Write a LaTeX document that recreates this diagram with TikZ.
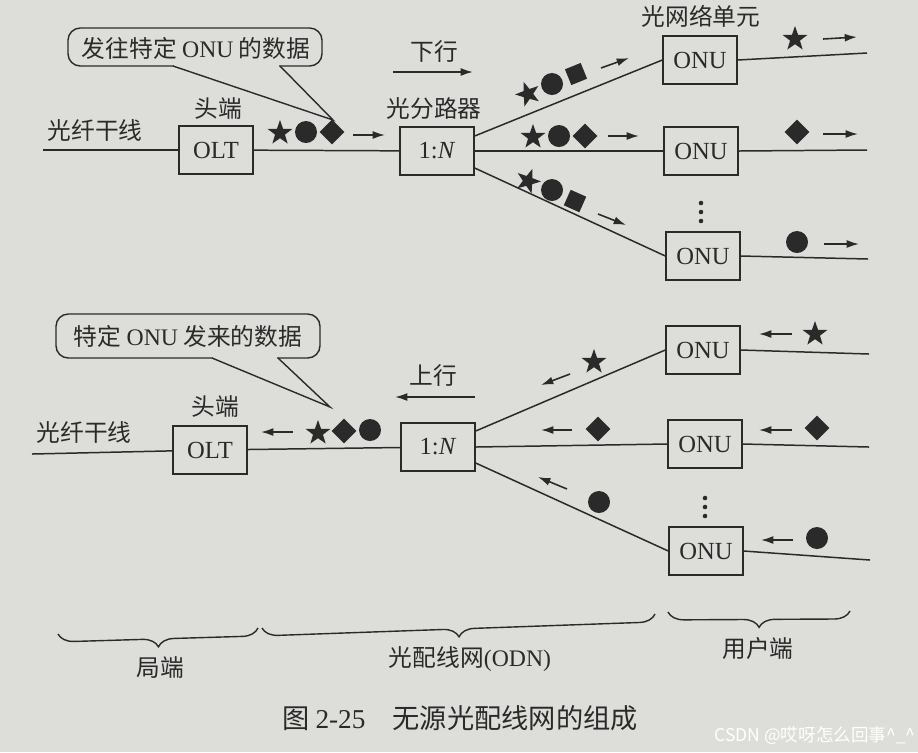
\documentclass[tikz,border=0pt]{standalone}
\usepackage{fontspec}
\setmainfont{Liberation Serif}
\newfontfamily\cjk{Noto Sans CJK SC}
\newfontfamily\wmfont{Noto Sans CJK SC}
\usetikzlibrary{shapes.geometric,arrows.meta,decorations.pathreplacing,calc}
\definecolor{paper}{RGB}{221,221,217}
\definecolor{ink}{RGB}{42,42,42}
\begin{document}
\begin{tikzpicture}[x=0.02cm,y=-0.02cm,
  box/.style={draw=ink,line width=0.8pt,minimum width=1.48cm,minimum height=0.96cm,inner sep=0pt,text=ink,font=\fontsize{14}{16}\selectfont},
  fib/.style={draw=ink,line width=0.85pt},
  lbl/.style={font=\cjk\fontsize{13.5}{15}\selectfont,text=ink,inner sep=0pt},
  sarr/.style={draw=ink,line width=0.9pt,-{Latex[length=7pt,width=4.5pt]}},
  sstar/.style={star,star points=5,star point ratio=2.5,fill=ink,inner sep=0pt,minimum size=0.52cm},
  sdot/.style={circle,fill=ink,inner sep=0pt,minimum size=0.44cm},
  sdia/.style={diamond,fill=ink,inner sep=0pt,minimum width=0.5cm,minimum height=0.5cm},
  ssq/.style={rectangle,fill=ink,inner sep=0pt,minimum size=0.34cm},
  vdot/.style={circle,fill=ink,inner sep=0pt,minimum size=2.6pt},
  callout/.style={draw=ink,line width=0.8pt,rounded corners=7pt},
  brc/.style={draw=ink,line width=0.8pt,decorate,decoration={brace,mirror,amplitude=9pt}}
]
\fill[paper] (0,0) rectangle (918,752);

% ================= TOP: downstream =================
\node[box] (olt1) at (216,150) {OLT};
\node[box] (sp1) at (437,151) {1:\textit{N}};
\node[box] (onu1a) at (700,60) {ONU};
\node[box] (onu1b) at (701,151) {ONU};
\node[box] (onu1c) at (703,256) {ONU};
\coordinate (t1) at (43,150);
\coordinate (e1a) at (867,53);
\coordinate (e1b) at (867,150);
\coordinate (e1c) at (868,259);
\draw[fib] (t1) -- (olt1);
\draw[fib] (olt1) -- (sp1);
\draw[fib] ($(sp1.east)+(0,-15)$) -- (onu1a.west);
\draw[fib] (sp1.east) -- (onu1b.west);
\draw[fib] ($(sp1.east)+(0,17)$) -- (onu1c.west);
\draw[fib] (onu1a.east) -- (e1a);
\draw[fib] (onu1b.east) -- (e1b);
\draw[fib] (onu1c.east) -- (e1c);

\node[lbl] (l1) at (95,130) {光纤干线};
\node[lbl] (h1) at (218,109) {头端};
\node[lbl] (s1l) at (434,108) {光分路器};
\node[lbl] (dn) at (434,52) {下行};
\draw[sarr] (393,72) -- (473,72);
\node[lbl] (onul) at (701,16) {光网络单元};

% callout
\draw[callout] (68,28) rectangle (322,66);
\fill[paper] (174,64.3) rectangle (279,67.7);
\draw[ink,line width=0.8pt] (173,66) -- (333,120) -- (280,66);
\node[lbl] (c1) at (196,48) {发往特定 {\rmfamily ONU} 的数据};

% symbols at OLT
\node[sstar] (a1) at (280,133) {};
\node[sdot] (a2) at (306,132) {};
\node[sdia] (a3) at (332,132) {};
\draw[sarr] (353,135) -- (385,135);

% branch symbols
\node[sstar,rotate=20] (b1) at (528,94) {};
\node[sdot] (b2) at (552,84) {};
\node[ssq,rotate=22] (b3) at (576,74) {};
\draw[sarr] (601,68) -- (629,58);
\node[sstar] (b4) at (533,137) {};
\node[sdot] (b5) at (559,136) {};
\node[sdia] (b6) at (585,136) {};
\draw[sarr] (608,136) -- (639,136);
\node[sstar,rotate=-20] (b7) at (528,181) {};
\node[sdot] (b8) at (552,190) {};
\node[ssq,rotate=-24] (b9) at (575,201) {};
\draw[sarr] (598,214) -- (626,225);

% right symbols
\node[sstar] (r1) at (795,39) {};
\draw[sarr] (823,39) -- (857,37);
\node[sdia] (r2) at (797,132) {};
\draw[sarr] (823,134) -- (858,134);
\node[sdot] (r3) at (797,242) {};
\draw[sarr] (824,244) -- (859,244);

\node[vdot] (d1) at (701,203) {};
\node[vdot] (d2) at (701,212) {};
\node[vdot] (d3) at (701,221) {};

% ================= BOTTOM: upstream =================
\node[box] (olt2) at (210,450) {OLT};
\node[box] (sp2) at (438,447) {1:\textit{N}};
\node[box] (onu2a) at (703,350) {ONU};
\node[box] (onu2b) at (705,444) {ONU};
\node[box] (onu2c) at (706,551) {ONU};
\coordinate (t2) at (32,454);
\coordinate (e2a) at (869,354);
\coordinate (e2b) at (869,447);
\coordinate (e2c) at (870,560);
\draw[fib] (t2) -- (olt2);
\draw[fib] (olt2) -- (sp2);
\draw[fib] ($(sp2.east)+(0,-16)$) -- (onu2a.west);
\draw[fib] (sp2.east) -- (onu2b.west);
\draw[fib] ($(sp2.east)+(0,16)$) -- (onu2c.west);
\draw[fib] (onu2a.east) -- (e2a);
\draw[fib] (onu2b.east) -- (e2b);
\draw[fib] (onu2c.east) -- (e2c);

\node[lbl] (l2) at (84,432) {光纤干线};
\node[lbl] (h2) at (215,407) {头端};
\node[lbl] (up) at (433,375) {上行};
\draw[sarr] (475,397) -- (395,397);

% callout
\draw[callout] (56,314) rectangle (320,358);
\fill[paper] (213,356.3) rectangle (277,359.7);
\draw[ink,line width=0.8pt] (212,358) -- (330,407) -- (278,358);
\node[lbl] (c2) at (188,336) {特定 {\rmfamily ONU} 发来的数据};

\draw[sarr] (293,432) -- (261,432);
\node[sstar] (u1) at (318,433) {};
\node[sdia] (u2) at (344,431) {};
\node[sdot] (u3) at (370,430) {};

\node[sstar] (v1) at (594,362) {};
\draw[sarr] (570,374) -- (541,385);
\node[sdia] (v2) at (598,429) {};
\draw[sarr] (572,430) -- (541,430);
\node[sdot] (v3) at (599,502) {};
\draw[sarr] (567,489) -- (538,477);

\draw[sarr] (792,334) -- (759,334);
\node[sstar] (w1) at (815,334) {};
\draw[sarr] (792,430) -- (759,430);
\node[sdia] (w2) at (817,428) {};
\draw[sarr] (793,540) -- (761,540);
\node[sdot] (w3) at (817,538) {};

\node[vdot] (f1) at (705,498) {};
\node[vdot] (f2) at (705,507) {};
\node[vdot] (f3) at (705,516) {};

% ================= braces & captions =================
\draw[brc] (58,634) -- (258,628);
\draw[brc] (262,628) -- (655,614);
\draw[brc] (668,612) -- (850,611);
\node[lbl] (g1) at (160,668) {局端};
\node[lbl] (g2) at (470,659) {光配线网{\rmfamily (ODN)}};
\node[lbl] (g3) at (758,648) {用户端};
\node[lbl,font=\cjk\fontsize{15.5}{17}\selectfont] (cap) at (460,718) {图 {\rmfamily 2-25}\quad 无源光配线网的组成};
\node[text=white,font=\wmfont\fontsize{10}{12}\selectfont,inner sep=0pt] (wm) at (815,736) {CSDN @哎呀怎么回事\^{}\_\^{}};
\end{tikzpicture}
\end{document}
